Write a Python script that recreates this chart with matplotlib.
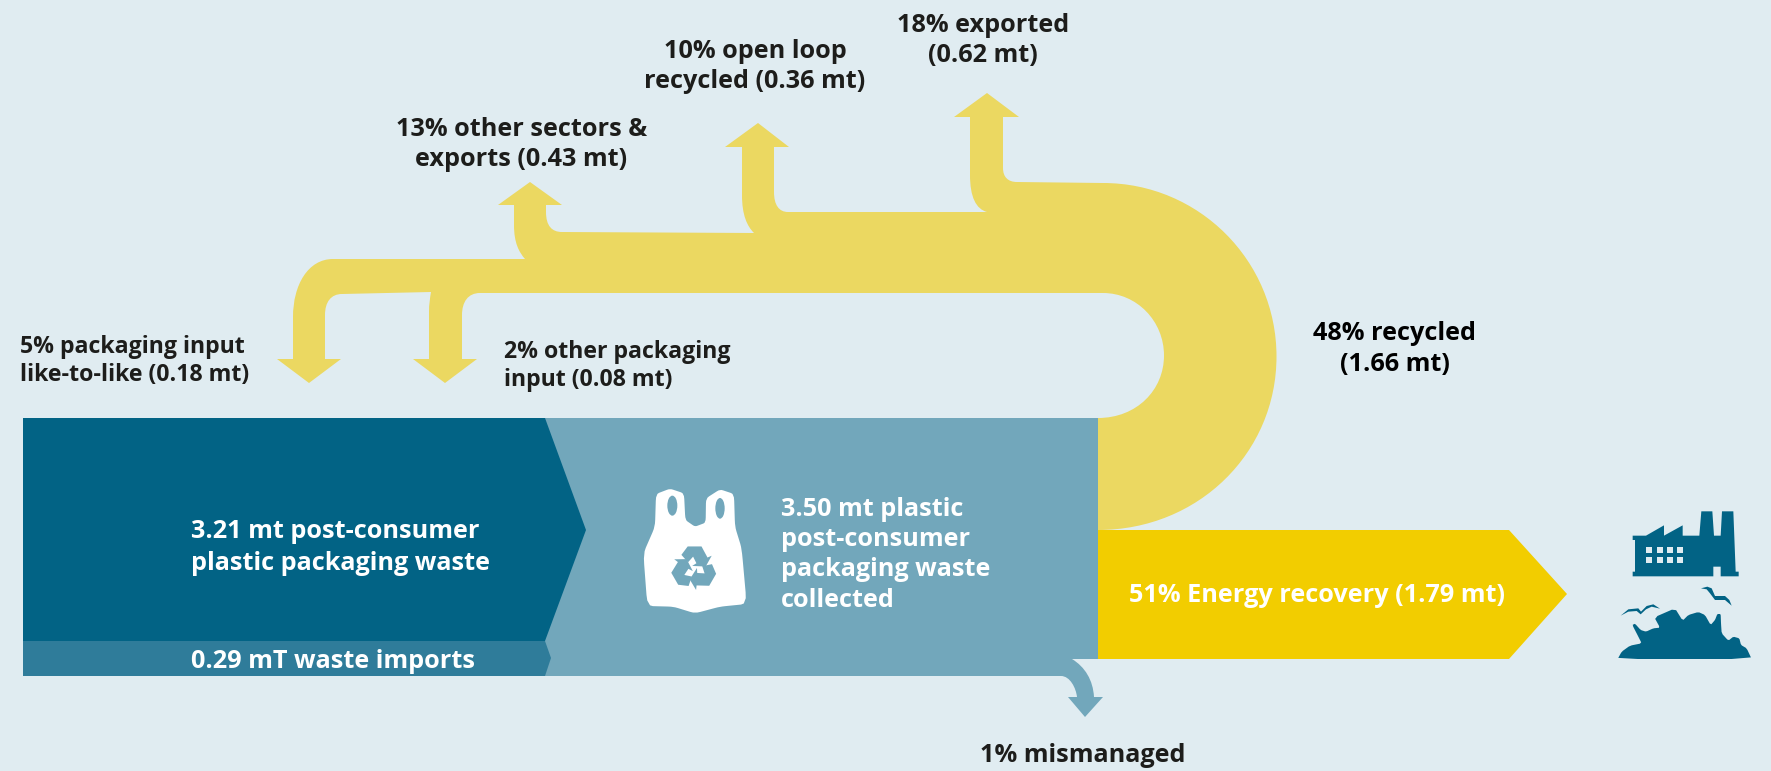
import matplotlib
matplotlib.use('Agg')
import matplotlib.pyplot as plt
from matplotlib.path import Path
from matplotlib.patches import PathPatch, Polygon, Ellipse, Rectangle
from matplotlib.transforms import Affine2D

# flows, text as printed on the chart
collected_label = '3.50 mt plastic\npost-consumer\npackaging waste\ncollected'
source_labels = ['3.21 mt post-consumer\nplastic packaging waste', '0.29 mT waste imports']
recycled_label = '48% recycled\n(1.66 mt)'
energy_label = '51% Energy recovery (1.79 mt)'
mismanaged_label = '1% mismanaged'
export_labels = ['18% exported\n(0.62 mt)', '10% open loop\nrecycled (0.36 mt)', '13% other sectors &\nexports (0.43 mt)']
packaging_labels = ['5% packaging input\nlike-to-like (0.18 mt)', '2% other packaging\ninput (0.08 mt)']

BG = '#e0ecf1'
DARK = '#026385'
MID = '#2f7c9a'
LIGHT = '#72a7bb'
YELLOW = '#ebd861'
ENERGY = '#f2cd00'
INK = '#1d1d1b'

plt.rcParams['font.family'] = ['Open Sans', 'DejaVu Sans']

fig = plt.figure(figsize=(17.71, 7.71), dpi=100, facecolor=BG)
ax = fig.add_axes([0, 0, 1, 1])
ax.set_xlim(0, 1771)
ax.set_ylim(771, 0)
ax.axis('off')


def flow(cmds, color, z=1):
    # cmds: list of (x, y) for a line, or three points for a cubic curve
    verts = [cmds[0]]
    codes = [Path.MOVETO]
    for c in cmds[1:]:
        if len(c) == 3:
            verts.extend(c)
            codes.extend([Path.CURVE4] * 3)
        else:
            verts.append(c)
            codes.append(Path.LINETO)
    verts.append(cmds[0])
    codes.append(Path.CLOSEPOLY)
    ax.add_patch(PathPatch(Path(verts, codes), fc=color, ec='none', zorder=z))


def label(x, y, txt, color=INK, ha='left', step=30.5, size=18.2):
    for i, line in enumerate(txt.split('\n')):
        ax.text(x, y + 2 + i * step, line, color=color, ha=ha, va='center',
                fontsize=size, fontweight='bold', zorder=10)


def soften(pts, r=0.2, n=2):
    # corner cutting, rounds the icon outlines a little
    for _ in range(n):
        out = []
        for i, p in enumerate(pts):
            q = pts[(i + 1) % len(pts)]
            out.append((p[0] + r * (q[0] - p[0]), p[1] + r * (q[1] - p[1])))
            out.append((q[0] - r * (q[0] - p[0]), q[1] - r * (q[1] - p[1])))
        pts = out
    return pts


k = 0.5523
# yellow recycled stream with its five branches
cx, cy, R = 1103, 356.5, 173.5
ry = 62.5
rx = 61
yellow = [
    (1098, 530),
    ((cx + k * R, cy + R), (cx + R, cy + k * R), (cx + R, cy)),
    ((cx + R, cy - k * R), (cx + k * R, cy - R), (cx, cy - R)),
    (1017, 182),
    ((1008, 182), (1003, 177), (1003, 168)),
    (1003, 117), (1019, 117), (987, 93), (954, 117), (970, 117), (970, 175),
    ((970, 197), (976, 209), (987, 212)),
    (788, 212),
    ((779, 212), (774, 205), (774, 192)),
    (774, 147), (789, 147), (758, 123), (725, 147), (742, 147), (742, 195),
    ((742, 215), (747, 226), (754, 233)),
    (562, 232),
    ((552, 232), (546, 226), (546, 212)),
    (546, 205), (562, 205), (530, 182), (498, 205), (514, 205), (514, 225),
    ((514, 243), (519, 252), (525, 259)),
    (333, 259),
    ((308, 259), (293, 285), (293, 317)),
    (293, 359), (277, 359), (309, 383), (341, 359), (325, 359), (325, 315),
    ((325, 302), (331, 294), (342, 294)),
    (431, 292),
    ((430, 298), (429, 304), (429, 312)),
    (429, 359), (413, 359), (445, 383), (477, 359), (462, 359), (462, 315),
    ((462, 302), (468, 293), (480, 293)),
    (1103, 293),
    ((1103 + k * rx, 293), (1103 + rx, 355.5 - k * ry), (1103 + rx, 355.5)),
    ((1103 + rx, 355.5 + k * ry), (1103 + k * rx, 418), (1098, 418)),
]
flow(yellow, YELLOW)

# collected box and the small mismanaged arrow
flow([(500, 418), (1098, 418), (1098, 659), (1072, 659),
      ((1085, 667), (1093, 680), (1094, 697)),
      (1103, 697), (1085, 717), (1068, 697), (1077, 697),
      ((1076, 688), (1070, 676), (1061, 676)),
      (500, 676)], LIGHT, 2)

# sources
ax.add_patch(Polygon([(23, 418), (545, 418), (586, 530), (545, 641), (23, 641)], fc=DARK, ec='none', zorder=3))
ax.add_patch(Polygon([(23, 641), (545, 641), (551, 658), (545, 676), (23, 676)], fc=MID, ec='none', zorder=3))

# energy arrow
ax.add_patch(Polygon([(1098, 530), (1509, 530), (1567, 594), (1509, 659), (1098, 659)], fc=ENERGY, ec='none', zorder=3))


# bag icon, outline taken in 150 px crop units
def bag(p):
    return (620 + p[0] / 3, 470 + p[1] / 3)


bag_pts = [(108, 72), (150, 56), (192, 70), (196, 150), (225, 170), (257, 158), (258, 85), (300, 58),
           (342, 72), (345, 170), (365, 235), (380, 402), (300, 410), (225, 430), (160, 410),
           (82, 408), (70, 250), (105, 170)]
ax.add_patch(Polygon([bag(p) for p in soften(bag_pts, 0.12)], fc='white', ec='none', zorder=4))
ax.add_patch(Ellipse(bag((157, 107)), 30 / 3, 60 / 3, fc=LIGHT, ec='none', zorder=5))
ax.add_patch(Ellipse(bag((300, 115)), 28 / 3, 62 / 3, fc=LIGHT, ec='none', zorder=5))
# recycling mark: one arrow turned three times
rec = [(-42, -45), (-21, -73), (25, -73), (45, -36), (59, -42), (39, -6), (-6, -8), (8, -17), (-3, -39), (-20, -20)]
cxb, cyb = bag((222, 295))
for ang in (0, 120, 240):
    tr = Affine2D().scale(0.9 / 3).rotate_deg(ang).translate(cxb, cyb)
    ax.add_patch(Polygon(tr.transform(rec), fc=LIGHT, ec='none', zorder=5))


# factory, crop units again
def ico(p):
    return (1600 + p[0] / 3, 490 + p[1] / 3)


factory = [(98, 137), (138, 137), (192, 106), (192, 137), (248, 106), (248, 137), (298, 137), (304, 64),
           (337, 64), (342, 137), (362, 137), (366, 64), (400, 64), (407, 245), (416, 245), (416, 259),
           (362, 259), (362, 230), (340, 230), (340, 259), (98, 259), (98, 245), (105, 245), (105, 150), (98, 150)]
ax.add_patch(Polygon([ico(p) for p in factory], fc=DARK, ec='none', zorder=4))
for wx in (138, 170, 200, 231):
    for wy in (171, 202):
        x0, y0 = ico((wx, wy))
        ax.add_patch(Rectangle((x0, y0), 6, 6, fc=BG, ec='none', zorder=5))


# landfill and birds
def tip(p):
    return (1610 + p[0] / 3, 590 + p[1] / 3)


landfill = [(23, 207), (35, 185), (60, 167), (95, 160), (85, 140), (67, 105), (75, 101), (92, 120), (108, 125),
            (130, 115), (150, 113), (133, 82), (195, 55), (218, 92), (235, 75), (265, 66), (285, 75), (302, 105),
            (315, 90), (322, 72), (332, 72), (333, 100), (335, 130), (355, 152), (370, 140), (388, 145),
            (393, 165), (410, 175), (425, 207)]
bird1 = [(32, 77), (55, 58), (85, 55), (93, 65), (110, 48), (130, 43), (150, 56), (125, 50), (108, 58), (92, 73),
         (80, 63), (55, 65)]
bird2 = [(303, 295), (322, 290), (335, 295), (345, 318), (375, 318), (388, 330), (395, 347), (375, 330),
         (345, 330), (330, 310), (320, 298)]
ax.add_patch(Polygon([tip(p) for p in soften(landfill, 0.15, 1)], fc=DARK, ec='none', zorder=4))
ax.add_patch(Polygon([tip(p) for p in bird1], fc=DARK, ec='none', zorder=4))
ax.add_patch(Polygon([ico(p) for p in bird2], fc=DARK, ec='none', zorder=4))

# labels
label(191, 530, source_labels[0], 'white', step=31)
label(191, 659, source_labels[1], 'white')
label(781, 507, collected_label, 'white')
label(1317, 594, energy_label, 'white', ha='center')
label(1083, 754, mismanaged_label, ha='center')
label(983, 23, export_labels[0], ha='center', step=30)
label(755, 49, export_labels[1], ha='center', step=30)
label(521.5, 128, export_labels[2], ha='center', step=30)
label(20, 345, packaging_labels[0], step=28, size=16.65)
label(504, 350, packaging_labels[1], step=28, size=16.65)
label(1394.5, 332, recycled_label, '#000000', ha='center')

fig.savefig('out.png', dpi=100, facecolor=BG)
